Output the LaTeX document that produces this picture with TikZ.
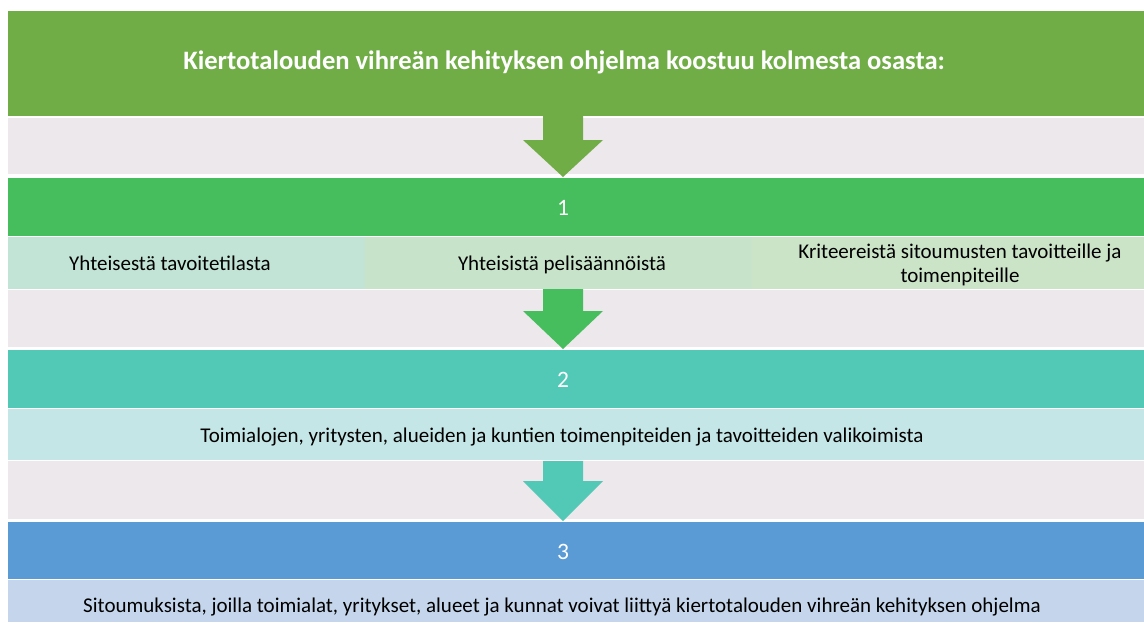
\documentclass[tikz,border=0pt]{standalone}
\usepackage{fontspec}
\setmainfont{Carlito}
\definecolor{cTop}{HTML}{70AD47}
\definecolor{cGray}{HTML}{EDE8EB}
\definecolor{cGA}{HTML}{46BE5E}
\definecolor{cC1}{HTML}{C2E4D6}
\definecolor{cC2}{HTML}{C7E4CA}
\definecolor{cC3}{HTML}{CBE3C7}
\definecolor{cTe}{HTML}{52C9B7}
\definecolor{cTeL}{HTML}{C5E6E6}
\definecolor{cBl}{HTML}{5B9BD5}
\definecolor{cBlL}{HTML}{C5D6EC}
\tikzset{
  title/.style={text=white, font=\fontsize{26.6}{31}\selectfont\bfseries, inner sep=0, anchor=base},
  num/.style={text=white, font=\fontsize{23.5}{27}\selectfont, inner sep=0, anchor=base},
  body/.style={text=black, font=\fontsize{21}{26}\selectfont, inner sep=0, anchor=base},
}
\begin{document}
\begin{tikzpicture}[x=1pt,y=-1pt]
\useasboundingbox (0,0) rectangle (1144,622);
\fill[white] (0,0) rectangle (1144,622);
% bands
\fill[cTop] (8,11) rectangle (1144,116);
\fill[cGray] (8,118) rectangle (1144,174);
\fill[cGA] (8,178) rectangle (1144,236);
\fill[cC1] (8,237) rectangle (365,289);
\fill[cC2] (365,237) rectangle (752,289);
\fill[cC3] (752,237) rectangle (1144,289);
\fill[cGray] (8,290) rectangle (1144,347);
\fill[cTe] (8,350) rectangle (1144,408);
\fill[cTeL] (8,409) rectangle (1144,460);
\fill[cGray] (8,461) rectangle (1144,519);
\fill[cBl] (8,522) rectangle (1144,579);
\fill[cBlL] (8,580) rectangle (1144,622);
% block arrows
\fill[cTop] (543,116) -- (583,116) -- (583,140) -- (603,140) -- (563,177) -- (523,140) -- (543,140) -- cycle;
\fill[cGA] (543,289) -- (583,289) -- (583,311) -- (603,311) -- (563,349) -- (523,311) -- (543,311) -- cycle;
\fill[cTe] (543,461) -- (583,461) -- (583,481) -- (603,481) -- (563,521) -- (523,481) -- (543,481) -- cycle;
% texts
\node[title] (title) at (564,69) {Kiertotalouden vihreän kehityksen ohjelma koostuu kolmesta osasta:};
\node[num] (n1) at (563,215) {1};
\node[body] (c1) at (170,270) {Yhteisestä tavoitetilasta};
\node[body] (c2) at (562,270) {Yhteisistä pelisäännöistä};
\node[body] (c3) at (960,258) {Kriteereistä sitoumusten tavoitteille ja};
\node[body] (c3b) at (960,282) {toimenpiteille};
\node[num] (n2) at (563,387) {2};
\node[body] (t2) at (562,442) {Toimialojen, yritysten, alueiden ja kuntien toimenpiteiden ja tavoitteiden valikoimista};
\node[num] (n3) at (563,559) {3};
\node[body] (t3) at (562,612) {Sitoumuksista, joilla toimialat, yritykset, alueet ja kunnat voivat liittyä kiertotalouden vihreän kehityksen ohjelma};
\end{tikzpicture}
\end{document}
